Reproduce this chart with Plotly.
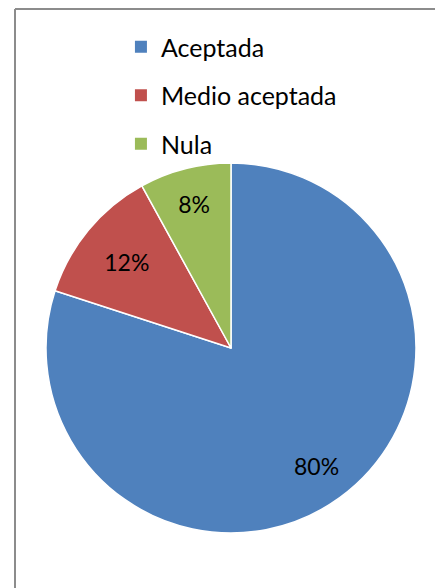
import math
import plotly.graph_objects as go

labels = ["Aceptada", "Medio aceptada", "Nula"]
values = [80, 12, 8]
colors = ["#4F81BD", "#C0504D", "#9BBB59"]

W, H = 435, 588
# pie placement in pixels (centre and radius)
CX, CY, R = 231, 348, 185

fig = go.Figure()

# Excel puts the big slice's label further out than plotly would,
# so that one is drawn as an annotation on the slice bisector
textpos = ["none", "inside", "inside"]

fig.add_trace(go.Pie(
    labels=labels,
    values=values,
    sort=False,
    direction="clockwise",
    rotation=0,
    marker=dict(colors=colors, line=dict(color="white", width=1.5)),
    texttemplate="%{percent:.0%}",
    textposition=textpos,
    insidetextorientation="horizontal",
    textfont=dict(family="Lato", size=23, color="black"),
    domain=dict(x=[(CX - R) / W, (CX + R) / W], y=[(H - CY - R) / H, (H - CY + R) / H]),
    showlegend=False,
    hoverinfo="label+percent",
))

total = sum(values)
mid = math.radians(360 * values[0] / total / 2)
rr = 0.79 * R
lx = CX + rr * math.sin(mid)
ly = CY - rr * math.cos(mid)  # pixels from top
fig.add_annotation(
    x=lx / W, y=1 - ly / H,
    xref="paper", yref="paper",
    xanchor="center", yanchor="middle",
    text=f"{round(100 * values[0] / total)}%",
    showarrow=False,
    font=dict(family="Lato", size=23, color="black"),
)

# legend entries (separate traces so the rows can be spaced out)
for lab, col in zip(labels, colors):
    fig.add_trace(go.Scatter(
        x=[None], y=[None],
        mode="markers",
        name=lab,
        legendgroup=lab,
        marker=dict(symbol="square", size=12, color=col),
    ))

fig.update_layout(
    width=W,
    height=H,
    margin=dict(l=0, r=0, t=0, b=0),
    paper_bgcolor="white",
    plot_bgcolor="white",
    xaxis=dict(visible=False),
    yaxis=dict(visible=False),
    font=dict(family="Lato", color="black"),
    legend=dict(
        x=0.278, y=1 - 24 / H,
        xanchor="left", yanchor="top",
        font=dict(size=25, family="Lato", color="black"),
        tracegroupgap=13,
        bgcolor="rgba(0,0,0,0)",
    ),
    shapes=[
        dict(type="line", xref="paper", yref="paper",
             x0=15 / W, x1=1, y0=1 - 9 / H, y1=1 - 9 / H,
             line=dict(color="#8c8c8c", width=2)),
        dict(type="line", xref="paper", yref="paper",
             x0=15 / W, x1=15 / W, y0=0, y1=1 - 9 / H,
             line=dict(color="#8c8c8c", width=2)),
    ],
)

fig.write_html("out.html", config={"displayModeBar": False},
               post_script="document.body.style.margin='0';")
